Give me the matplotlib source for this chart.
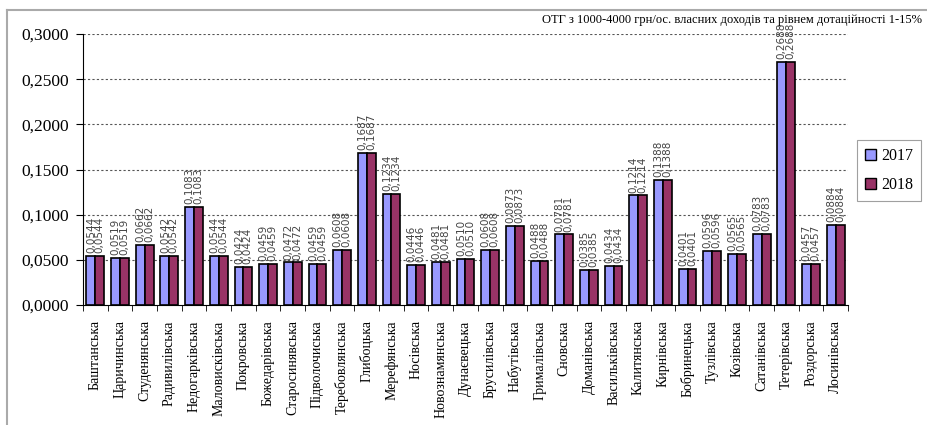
import matplotlib
matplotlib.use("Agg")
import matplotlib.pyplot as plt
import numpy as np
from matplotlib.patches import Rectangle
from matplotlib.lines import Line2D

categories = ["Баштанська", "Царичинська", "Студенянська", "Радивилівська", "Недогарківська",
              "Маловисківська", "Покровська", "Божедарівська", "Старосинявська", "Підволочиська",
              "Теребовлянська", "Глибоцька", "Мерефянська", "Носівська", "Новознамянська",
              "Дунаєвецька", "Брусилівська", "Набутівська", "Грималівська", "Сновська",
              "Доманівська", "Васильківська", "Калитянська", "Кирнівська", "Бобринецька",
              "Тузлівська", "Козівська", "Сатанівська", "Тетерівська", "Роздорська", "Лосинівська"]
values_2017 = [0.0544, 0.0519, 0.0662, 0.0542, 0.1083, 0.0544, 0.0424, 0.0459, 0.0472, 0.0459,
               0.0608, 0.1687, 0.1234, 0.0446, 0.0481, 0.0510, 0.0608, 0.0873, 0.0488, 0.0781,
               0.0385, 0.0434, 0.1214, 0.1388, 0.0401, 0.0596, 0.0565, 0.0783, 0.2688, 0.0457, 0.0884]
values_2018 = [0.0544, 0.0519, 0.0662, 0.0542, 0.1083, 0.0544, 0.0424, 0.0459, 0.0472, 0.0459,
               0.0608, 0.1687, 0.1234, 0.0446, 0.0481, 0.0510, 0.0608, 0.0873, 0.0488, 0.0781,
               0.0385, 0.0434, 0.1214, 0.1388, 0.0401, 0.0596, 0.0565, 0.0783, 0.2688, 0.0457, 0.0884]
series_names = ["2017", "2018"]
yticks = [0.0, 0.05, 0.10, 0.15, 0.20, 0.25, 0.30]
title = "ОТГ з 1000-4000 грн/ос. власних доходів та рівнем дотаційності 1-15%"

SERIF = ["Liberation Serif", "DejaVu Serif"]
c17 = "#9999FF"
c18 = "#993366"

fig = plt.figure(figsize=(9.28, 4.25), dpi=100)
ax = fig.add_axes([83/928, 1-305/425, (848-83)/928, (305-34)/425])

x = np.arange(len(categories))
w = 0.36
b1 = ax.bar(x - w/2, values_2017, w, color=c17, edgecolor="black", linewidth=1.2, zorder=3)
b2 = ax.bar(x + w/2, values_2018, w, color=c18, edgecolor="black", linewidth=1.2, zorder=3)

def fmt(v):
    return f"{v:.4f}".replace(".", ",")

for bars, vals in ((b1, values_2017), (b2, values_2018)):
    for r, v in zip(bars, vals):
        ax.annotate(fmt(v), (r.get_x() + r.get_width()/2, v), xytext=(0, 2),
                    textcoords="offset points", rotation=90, ha="center", va="bottom",
                    fontsize=7.5, color="#444444", family=["DejaVu Sans Condensed", "DejaVu Sans"])

ax.set_xlim(-0.5, len(categories) - 0.5)
ax.set_ylim(0, 0.3)
ax.set_yticks(yticks)
ax.set_yticklabels([fmt(t) for t in yticks], family=SERIF, fontsize=12.5)
for t in yticks[1:]:
    ax.axhline(t, color="#555555", linestyle=(0, (2, 2)), linewidth=0.8, zorder=1)

ax.set_xticks(x)
ax.set_xticklabels(categories, rotation=90, family=SERIF, fontsize=10)
ax.tick_params(axis="x", length=0, pad=11)
ax.set_xticks(np.arange(-0.5, len(categories), 1), minor=True)
ax.tick_params(axis="x", which="minor", length=4, color="black", direction="out")
ax.tick_params(axis="y", length=5, direction="out", color="black", pad=5)

for s in ("top", "right"):
    ax.spines[s].set_visible(False)
ax.spines["left"].set_color("black")
ax.spines["bottom"].set_color("black")

fig.text(922/928, 1-20/425, title, ha="right", va="center", family=SERIF, fontsize=9)

handles = [Rectangle((0, 0), 1, 1, facecolor=c17, edgecolor="black"),
           Rectangle((0, 0), 1, 1, facecolor=c18, edgecolor="black")]
leg = fig.legend(handles, series_names, loc="upper left", bbox_to_anchor=(857/928, 1-140/425),
                 prop={"family": SERIF, "size": 11.5}, frameon=True, fancybox=False,
                 handlelength=0.7, handleheight=0.7, handletextpad=0.3, borderpad=0.5,
                 labelspacing=0.8, borderaxespad=0)
leg.get_frame().set_edgecolor("#888888")
leg.get_frame().set_linewidth(0.8)

fig.add_artist(Line2D([7/928, 7/928], [0, 1-10/425], transform=fig.transFigure, color="#aaaaaa", linewidth=1.5))
fig.add_artist(Line2D([7/928, 1], [1-10/425, 1-10/425], transform=fig.transFigure, color="#aaaaaa", linewidth=1.5))

fig.savefig("out.png", dpi=100)
